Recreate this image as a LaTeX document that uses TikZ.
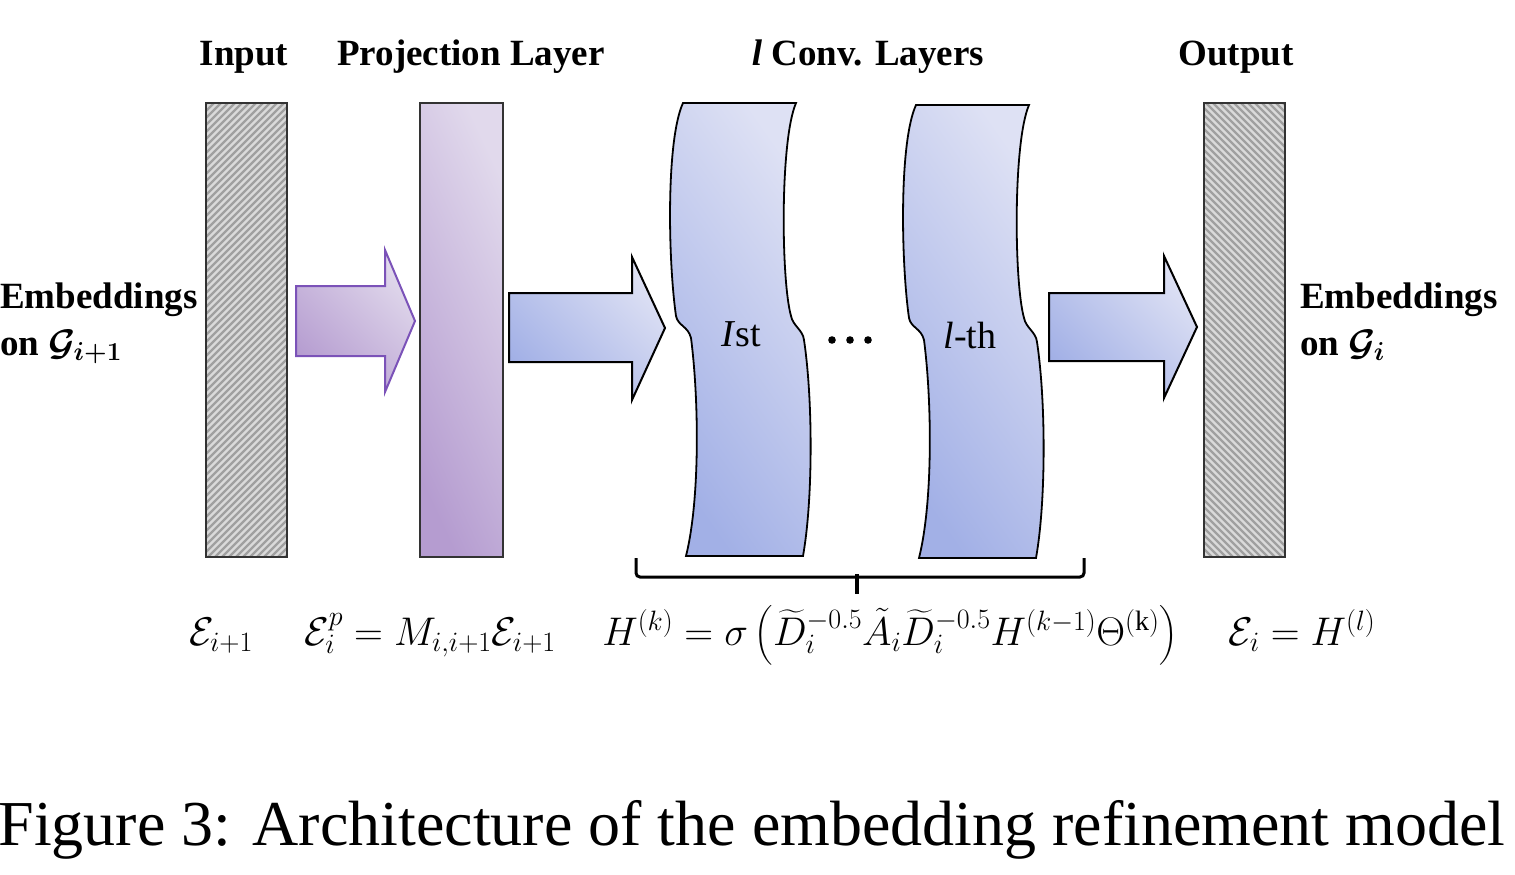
\RequirePackage{fix-cm}
\documentclass[tikz,border=0pt]{standalone}
\usepackage{amsmath}
\usepackage{fontspec}
\setmainfont{Liberation Serif}
\definecolor{hatchbg}{HTML}{DADADA}
\definecolor{hatchfg}{HTML}{A0A0A0}
\definecolor{purpdark}{HTML}{B59CD0}
\definecolor{purplight}{HTML}{E1D9EC}
\definecolor{purpline}{HTML}{7B52B8}
\definecolor{bluedark}{HTML}{A2B0E6}
\definecolor{bluelight}{HTML}{DEE1F4}
\tikzset{
  lbl/.style={font=\fontsize{37}{40}\selectfont\bfseries, inner sep=0pt},
  hatchbox/.style={fill=hatchbg, minimum width=81pt, minimum height=454pt, inner sep=0pt},
  boxedge/.style={draw=black!80, line width=1.8pt},
  stripe/.style={draw=hatchfg, line width=2.4pt},
  projbox/.style={draw=black!80, line width=1.6pt, top color=purpdark, bottom color=purplight,
    shading angle=115, minimum width=83pt, minimum height=454pt, inner sep=0pt},
  purparrow/.style={draw=purpline, line width=2pt, top color=purpdark, bottom color=purplight, shading angle=135},
  bluearrow/.style={draw=black, line width=2pt, top color=bluedark, bottom color=bluelight, shading angle=135, line join=miter},
  convshape/.style={draw=black, line width=1.8pt, top color=bluedark, bottom color=bluelight, shading angle=125},
  formula/.style={font=\fontsize{40}{44}\selectfont, inner sep=0pt, anchor=base},
  inlbl/.style={font=\fontsize{38}{40}\selectfont, inner sep=0pt, anchor=base},
}
\begin{document}
\begin{tikzpicture}[x=1pt,y=-1pt]
\useasboundingbox (0,0) rectangle (1515,875);
% titles
\node[lbl, anchor=base] (tin) at (244,66) {Input};
\node[lbl, anchor=base] (tproj) at (471,66) {Projection Layer};
\node[lbl, anchor=base] (tconv) at (868,66) {\textit{l} Conv. Layers};
\node[lbl, anchor=base] (tout) at (1236,66) {Output};
% side labels
\node[lbl, anchor=base west] (el1) at (0,308) {Embeddings};
\node[lbl, anchor=base west] (el2) at (0,355) {on {\boldmath$\mathcal{G}_{i+1}$}};
\node[lbl, anchor=base west] (er1) at (1300,308) {Embeddings};
\node[lbl, anchor=base west] (er2) at (1300,355) {on {\boldmath$\mathcal{G}_{i}$}};
% hatched boxes
\node[hatchbox] (inp) at (246.5,330) {};
\node[hatchbox] (outp) at (1244.5,330) {};
\begin{scope}
  \clip (inp.south west) rectangle (inp.north east);
  \foreach \k in {0,7,...,560} {
    \draw[stripe] ([xshift=\k pt-460pt]inp.south west) -- ++(460,-460);
  }
\end{scope}
\begin{scope}
  \clip (outp.south west) rectangle (outp.north east);
  \foreach \k in {0,7,...,560} {
    \draw[stripe] ([xshift=\k pt-460pt]outp.north west) -- ++(460,460);
  }
\end{scope}
\draw[boxedge] (inp.south west) rectangle (inp.north east);
\draw[boxedge] (outp.south west) rectangle (outp.north east);
\node[projbox] (proj) at (461.5,330) {};
% arrows
\path[purparrow] (296,286) -- (385,286) -- (385,250) -- (415,321) -- (385,392) -- (385,356) -- (296,356) -- cycle;
\path[bluearrow] (509,293) -- (632,293) -- (632,257) -- (665,328) -- (632,400) -- (632,362) -- (509,362) -- cycle;
\path[bluearrow] (1049,293) -- (1164,293) -- (1164,256) -- (1197,327) -- (1164,398) -- (1164,361) -- (1049,361) -- cycle;
% conv layers
\foreach \dx/\dy in {0/0, 233/2} {
\begin{scope}[shift={(\dx,\dy)}]
\path[convshape] (683,103) -- (796,103)
  .. controls (780,140) and (781,280) .. (791,316)
  .. controls (793,326) and (803,330) .. (804,340)
  .. controls (813,400) and (813,500) .. (803,556)
  -- (686,556)
  .. controls (700,500) and (699,400) .. (691,338)
  .. controls (688,326) and (678,326) .. (676,316)
  .. controls (668,260) and (666,140) .. (683,103) -- cycle;
\end{scope}
}
\node[inlbl] (c1) at (741,346) {\textit{I}st};
\node[inlbl] (c2) at (970,348) {\textit{l}-th};
\fill (832,340) circle (3.8) (850,340) circle (3.8) (868,340) circle (3.8);
% brace
\draw[line width=3pt, rounded corners=4pt] (636,558) -- (636,577) -- (1084,577) -- (1084,558);
\draw[line width=3.4pt] (857,574) -- (857,594);
% formulas
\node[formula] (f1) at (221,645) {$\mathcal{E}_{i+1}$};
\node[formula] (f2) at (430,645) {$\mathcal{E}_i^{p} = M_{i,i+1}\mathcal{E}_{i+1}$};
\node[formula] (f3) at (890,645) {$H^{(k)} = \sigma\left({\widetilde{D}_i}^{-0.5}\tilde{A}_i{\widetilde{D}_i}^{-0.5}H^{(k-1)}\Theta^{(\mathrm{k})}\right)$};
\node[formula] (f4) at (1302,645) {$\mathcal{E}_i = H^{(l)}$};
% caption
\node[font=\fontsize{64}{68}\selectfont, inner sep=0pt, anchor=base] (cap) at (752,845) {Figure 3: Architecture of the embedding refinement model};
\end{tikzpicture}
\end{document}
